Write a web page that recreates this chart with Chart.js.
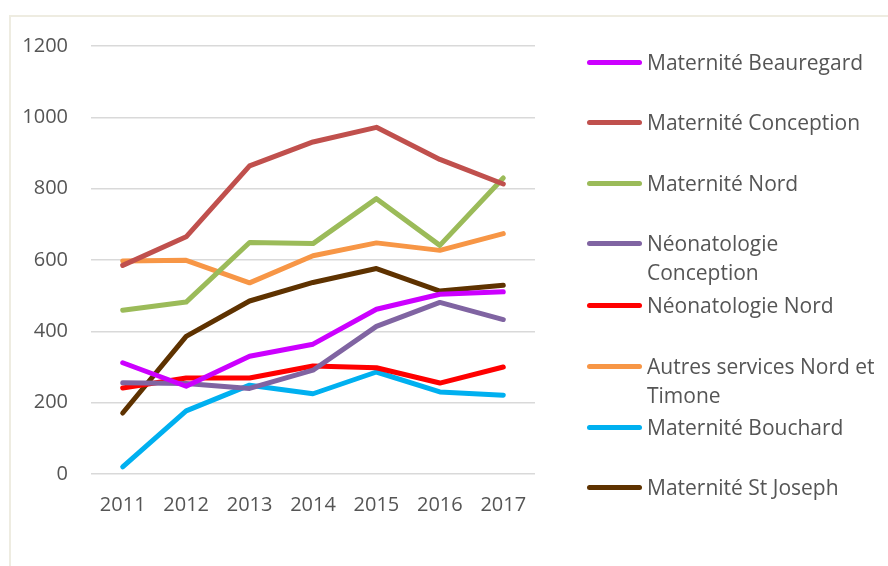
<!DOCTYPE html>
<html>
<head>
<meta charset="utf-8">
<script src="https://cdn.jsdelivr.net/npm/chart.js@4.4.0/dist/chart.umd.min.js"></script>
<style>
  html, body { margin: 0; padding: 0; background: #fff; }
  #wrap { position: relative; width: 888px; height: 566px; overflow: hidden; }
  #frame { position: absolute; left: 9px; top: 15px; width: 900px; height: 600px;
           border-top: 2px solid #EEECE1; border-left: 2px solid #EEECE1; box-sizing: border-box; }
  canvas { position: absolute; left: 0; top: 0; }
  #legend { position: absolute; left: 0; top: 0; width: 888px; height: 566px; pointer-events: none;
            font-family: "Open Sans", sans-serif; font-size: 21px; color: #555555; }
  .item { position: absolute; left: 587px; }
  .swatch { position: absolute; left: 0; width: 55px; height: 5px; border-radius: 3px; }
  .label { position: absolute; left: 60px; white-space: nowrap; line-height: 28.5px; }
</style>
</head>
<body>
<div id="wrap">
  <div id="frame"></div>
  <canvas id="c" width="888" height="566"></canvas>
  <div id="legend"></div>
</div>
<script>
const years = ["2011", "2012", "2013", "2014", "2015", "2016", "2017"];
const yTicks = [0, 200, 400, 600, 800, 1000, 1200];

const seriesNames = [
  "Maternité Beauregard",
  "Maternité Conception",
  "Maternité Nord",
  "Néonatologie Conception",
  "Néonatologie Nord",
  "Autres services Nord et Timone",
  "Maternité Bouchard",
  "Maternité St Joseph"
];
// legend line breaks as in the reference
const legendLines = [
  ["Maternité Beauregard"],
  ["Maternité Conception"],
  ["Maternité Nord"],
  ["Néonatologie", "Conception"],
  ["Néonatologie Nord"],
  ["Autres services Nord et", "Timone"],
  ["Maternité Bouchard"],
  ["Maternité St Joseph"]
];

const beauregard      = [312, 246, 330, 364, 462, 504, 511];
const conception      = [585, 665, 864, 931, 972, 882, 813];
const nord            = [459, 482, 649, 646, 772, 641, 830];
const neoConception   = [256, 254, 240, 291, 414, 481, 433];
const neoNord         = [241, 269, 269, 303, 298, 255, 300];
const autres          = [597, 599, 536, 612, 648, 627, 674];
const bouchard        = [20, 177, 249, 225, 286, 230, 221];
const stJoseph        = [171, 386, 485, 537, 576, 513, 529];

const seriesValues = [beauregard, conception, nord, neoConception, neoNord, autres, bouchard, stJoseph];
const colors = ["#CC00FF", "#C0504D", "#9BBB59", "#8064A2", "#FF0000", "#F79646", "#00B0F0", "#5E3200"];

// legend item vertical centers (first line)
const legendY = [62, 122, 183, 243, 305, 366, 427, 487];

const datasets = seriesNames.map((name, i) => ({
  label: name,
  data: seriesValues[i],
  borderColor: colors[i],
  backgroundColor: colors[i],
  borderWidth: 5,
  pointRadius: 0,
  pointHoverRadius: 0,
  tension: 0,
  borderCapStyle: 'round',
  borderJoinStyle: 'round',
  fill: false
}));

const chart = new Chart(document.getElementById('c'), {
  type: 'line',
  data: { labels: years, datasets: datasets },
  options: {
    responsive: false,
    animation: false,
    events: [],
    layout: { padding: { left: 0, right: 353, top: 46, bottom: 0 } },
    plugins: { legend: { display: false }, tooltip: { enabled: false } },
    scales: {
      x: {
        offset: true,
        grid: { display: false, drawTicks: false },
        border: { display: false },
        ticks: { color: '#555555', font: { family: 'Open Sans', size: 20 }, padding: 19, maxRotation: 0 },
        afterFit: s => { s.height = 92; }
      },
      y: {
        min: 0, max: 1200,
        afterBuildTicks: s => { s.ticks = yTicks.map(v => ({ value: v })); },
        grid: { color: '#D9D9D9', lineWidth: 1.5, drawTicks: false },
        border: { display: false },
        ticks: { color: '#555555', font: { family: 'Open Sans', size: 20 }, padding: 23,
                 callback: v => String(v) },
        afterFit: s => { s.width = 91; }
      }
    }
  }
});

const legend = document.getElementById('legend');
datasets.forEach((ds, i) => {
  const item = document.createElement('div');
  item.className = 'item';
  item.style.top = legendY[i] + 'px';
  const sw = document.createElement('div');
  sw.className = 'swatch';
  sw.style.background = ds.borderColor;
  sw.style.top = '-2.5px';
  const lb = document.createElement('div');
  lb.className = 'label';
  lb.style.top = '-14px';
  lb.innerHTML = legendLines[i].join('<br>');
  item.appendChild(sw);
  item.appendChild(lb);
  legend.appendChild(item);
});
</script>
</body>
</html>
